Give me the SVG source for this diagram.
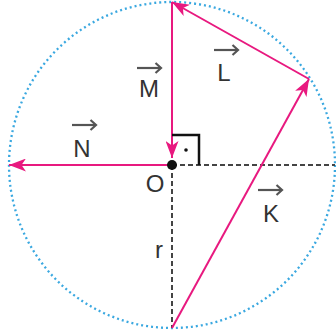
<svg xmlns="http://www.w3.org/2000/svg" xmlns:xlink="http://www.w3.org/1999/xlink" width="336" height="336" viewBox="0 0 336 336">
<style>
.lbl{font-family:"Liberation Sans",Arial,sans-serif;font-size:24px;fill:#333;text-anchor:middle}
.vec{stroke:#e8197f;stroke-width:2;fill:none}
.dash{stroke:#444;stroke-width:2;stroke-dasharray:5 3;fill:none}
.va{stroke:#555;stroke-width:2.2;fill:none}
</style>
<defs>
<marker id="ah" viewBox="0 0 17 13" refX="17" refY="6.5" markerWidth="17" markerHeight="13" markerUnits="userSpaceOnUse" orient="auto">
<path d="M0,0 L17,6.5 L0,13 L4.5,6.5 z" fill="#e8197f"/>
</marker>
<g id="varrow">
<line x1="0" y1="0" x2="24" y2="0" class="va"/>
<polyline points="18.5,-5 24,0 18.5,5" class="va"/>
</g>
</defs>
<g id="circle">
<circle cx="172" cy="165" r="163" fill="none" stroke="#3aa8e0" stroke-width="2.3" stroke-dasharray="2 3"/>
</g>
<g id="connectors">
<line x1="172" y1="165" x2="335" y2="165" class="dash"/>
<line x1="172" y1="165" x2="172" y2="328" class="dash"/>
<line x1="172" y1="2" x2="172" y2="158" class="vec" marker-end="url(#ah)"/>
<line x1="309" y1="79" x2="172" y2="2" class="vec" marker-end="url(#ah)"/>
<line x1="172" y1="328" x2="309" y2="79" class="vec" marker-end="url(#ah)"/>
<line x1="172" y1="165" x2="9" y2="165" class="vec" marker-end="url(#ah)"/>
</g>
<g id="rightangle">
<polyline points="172,135 199,135 199,165" fill="none" stroke="#111" stroke-width="2.5"/>
<circle cx="186" cy="150" r="1.8" fill="#111"/>
</g>
<g id="O">
<circle cx="172" cy="165" r="5" fill="#111"/>
<text x="155" y="192" class="lbl">O</text>
</g>
<g id="M">
<use xlink:href="#varrow" x="137" y="68"/>
<text x="149" y="97" class="lbl">M</text>
</g>
<g id="L">
<use xlink:href="#varrow" x="214" y="50"/>
<text x="224" y="81" class="lbl">L</text>
</g>
<g id="N">
<use xlink:href="#varrow" x="72" y="125"/>
<text x="82" y="157" class="lbl">N</text>
</g>
<g id="K">
<use xlink:href="#varrow" x="258" y="190"/>
<text x="271" y="222" class="lbl">K</text>
</g>
<g id="r">
<text x="159" y="258" class="lbl">r</text>
</g>
</svg>
